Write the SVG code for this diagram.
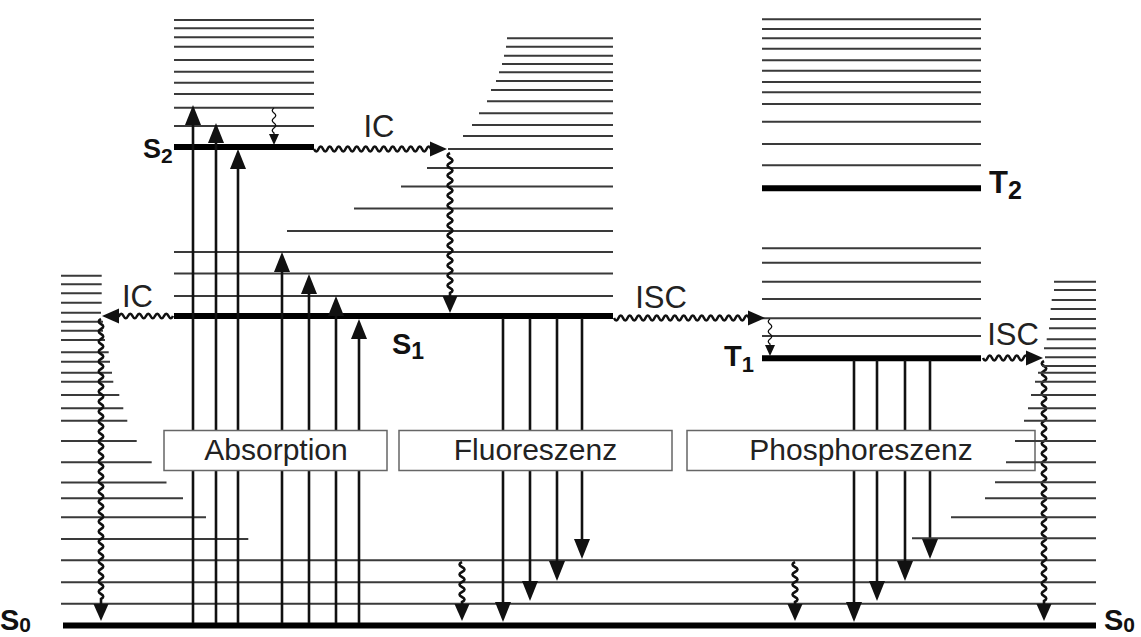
<svg xmlns="http://www.w3.org/2000/svg" width="1141" height="637" viewBox="0 0 1141 637">
<style>
.lv{stroke:#3a3a3a;stroke-width:1.9;fill:none}
.th{stroke:#000;stroke-width:6;fill:none}
.ar{stroke:#111;stroke-width:2.6;fill:none;marker-end:url(#ah)}
.wv{stroke:#111;stroke-width:2.6;fill:none;marker-end:url(#aw)}
.ws{stroke:#111;stroke-width:1.3;fill:none;marker-end:url(#as)}
.bx{fill:#fff;stroke:#666;stroke-width:1.5}
.bt{font-family:"Liberation Sans",Arial,sans-serif;font-size:30px;fill:#222;text-anchor:middle}
.pl{font-family:"Liberation Sans",Arial,sans-serif;font-size:31px;fill:#222;text-anchor:middle}
.st{font-family:"Liberation Sans",Arial,sans-serif;font-size:29px;font-weight:bold;fill:#111}
.sb{font-size:23px}
</style>
<defs>
<marker id="ah" markerUnits="userSpaceOnUse" markerWidth="20" markerHeight="17" refX="15" refY="8.5" orient="auto"><path d="M0,0.5 L20,8.5 L0,16.5 z" fill="#111"/></marker>
<marker id="aw" markerUnits="userSpaceOnUse" markerWidth="17" markerHeight="16" refX="3" refY="8" orient="auto"><path d="M0,0.5 L17,8 L0,15.5 z" fill="#111"/></marker>
<marker id="as" markerUnits="userSpaceOnUse" markerWidth="11" markerHeight="10" refX="1" refY="5" orient="auto"><path d="M0,0 L11,5 L0,10 z" fill="#111"/></marker>
</defs>

<g id="S2">
<path class="lv" d="M174,20H314M174,28.3H314M174,37.3H314M174,46.7H314M174,60H314M174,71.7H314M174,82.7H314M174,94H314M174,107.7H314M174,126H314"/>
<path class="th" d="M174,147H314"/>
<text class="st" x="143" y="158" style="font-size:27px">S<tspan style="font-size:21px" dy="5">2</tspan></text>
</g>

<g id="S1">
<path class="lv" d="M507,38.3H613M506,46.7H613M504,55.7H613M502,64H613M499,72.3H613M496,81H613M491,90H613M487,101.3H613M479,113.3H613M472,125H613M463,136H613M448,149H613M427,168H613M401,186.5H613M354,208.5H613M287,231H613M174,252H613M174,273.5H613M174,296H613"/>
<path class="th" d="M174,316H613"/>
<text class="st" x="392" y="354">S<tspan class="sb" dy="5">1</tspan></text>
</g>

<g id="T2">
<path class="lv" d="M762,19.3H981M762,29H981M762,38.3H981M762,48.7H981M762,60.3H981M762,70.7H981M762,82H981M762,92.3H981M762,104H981M762,121.7H981M762,144H981M762,165.3H981"/>
<path class="th" d="M762,188.3H981"/>
<text class="st" x="989" y="193" style="font-size:31px">T<tspan style="font-size:25px" dy="6">2</tspan></text>
</g>

<g id="T1">
<path class="lv" d="M762,248.3H981M762,262.7H981M762,281.7H981M762,299H981M762,318.3H981M762,336H981"/>
<path class="th" d="M762,358.3H981"/>
<text class="st" x="724" y="366">T<tspan style="font-size:22px" dy="6">1</tspan></text>
</g>

<g id="S0">
<path class="lv" d="M61,275.7H101.7M61,284.3H101.7M61,293.3H101.7M61,302.7H101.7M61,312.7H101M61,321.7H103M61,330.7H103M61,340H105M61,352.3H108.7M61,361.7H110M61,372.7H112M61,381.7H113.3M61,395H119.3M61,408.3H123.3M61,420.7H127.3M61,441H136.7M61,462.3H151.7M61,482.5H166.5M61,498.3H183M61,517.3H206M61,539H248.3"/>
<path class="lv" d="M61,560.3H1096M61,582.2H1096M61,603.8H1096"/>
<path class="th" d="M63,625.5H1096"/>
<text class="st" x="0" y="630">S<tspan style="font-size:21px" dy="2">0</tspan></text>
<text class="st" x="1104" y="630">S<tspan style="font-size:21px" dy="2">0</tspan></text>
</g>

<g id="connectors">
<path class="ar" d="M193,623V110"/>
<path class="ar" d="M216,623V128"/>
<path class="ar" d="M238,623V154"/>
<path class="ar" d="M282,623V257"/>
<path class="ar" d="M309,623V279"/>
<path class="ar" d="M336,623V301"/>
<path class="ar" d="M359,623V324"/>
<path class="ar" d="M503,318V617"/>
<path class="ar" d="M530,318V596"/>
<path class="ar" d="M557,318V576"/>
<path class="ar" d="M582,318V554"/>
<path class="ar" d="M854,360V617"/>
<path class="ar" d="M877,360V596"/>
<path class="ar" d="M905,360V576"/>
<path class="ar" d="M930,360V554"/>
<path class="wv" d="M314,149q2.25,5 4.5,0t4.5,0t4.5,0t4.5,0t4.5,0t4.5,0t4.5,0t4.5,0t4.5,0t4.5,0t4.5,0t4.5,0t4.5,0t4.5,0t4.5,0t4.5,0t4.5,0t4.5,0t4.5,0t4.5,0t4.5,0t4.5,0t4.5,0t4.5,0t4.5,0t4.5,0L433,149"/>
<path class="wv" d="M450,153q-5,2.5 0,5t0,5t0,5t0,5t0,5t0,5t0,5t0,5t0,5t0,5t0,5t0,5t0,5t0,5t0,5t0,5t0,5t0,5t0,5t0,5t0,5t0,5t0,5t0,5t0,5t0,5t0,5t0,5L450,299"/>
<path class="wv" d="M173,316q-2.25,4.5 -4.5,0t-4.5,0t-4.5,0t-4.5,0t-4.5,0t-4.5,0t-4.5,0t-4.5,0t-4.5,0t-4.5,0t-4.5,0t-4.5,0L116,316"/>
<path class="wv" d="M101,319q-4.5,2.5 0,5t0,5t0,5t0,5t0,5t0,5t0,5t0,5t0,5t0,5t0,5t0,5t0,5t0,5t0,5t0,5t0,5t0,5t0,5t0,5t0,5t0,5t0,5t0,5t0,5t0,5t0,5t0,5t0,5t0,5t0,5t0,5t0,5t0,5t0,5t0,5t0,5t0,5t0,5t0,5t0,5t0,5t0,5t0,5t0,5t0,5t0,5t0,5t0,5t0,5t0,5t0,5t0,5t0,5t0,5t0,5L101,607"/>
<path class="wv" d="M614,318q2.25,5 4.5,0t4.5,0t4.5,0t4.5,0t4.5,0t4.5,0t4.5,0t4.5,0t4.5,0t4.5,0t4.5,0t4.5,0t4.5,0t4.5,0t4.5,0t4.5,0t4.5,0t4.5,0t4.5,0t4.5,0t4.5,0t4.5,0t4.5,0t4.5,0t4.5,0t4.5,0t4.5,0t4.5,0t4.5,0t4.5,0L751,318"/>
<path class="wv" d="M983,358q2.25,5 4.5,0t4.5,0t4.5,0t4.5,0t4.5,0t4.5,0t4.5,0t4.5,0t4.5,0t4.5,0L1029,358"/>
<path class="wv" d="M1044,361q-4.5,2.5 0,5t0,5t0,5t0,5t0,5t0,5t0,5t0,5t0,5t0,5t0,5t0,5t0,5t0,5t0,5t0,5t0,5t0,5t0,5t0,5t0,5t0,5t0,5t0,5t0,5t0,5t0,5t0,5t0,5t0,5t0,5t0,5t0,5t0,5t0,5t0,5t0,5t0,5t0,5t0,5t0,5t0,5t0,5t0,5t0,5t0,5t0,5t0,5L1044,607"/>
<path class="wv" d="M462,562q-5,2.5 0,5t0,5t0,5t0,5t0,5t0,5t0,5t0,5L462,607"/>
<path class="wv" d="M795,562q-5,2.5 0,5t0,5t0,5t0,5t0,5t0,5t0,5t0,5L795,607"/>
<path class="ws" d="M274,108q-3.5,2.5 0,5t0,5t0,5t0,5t0,5L274,135"/>
<path class="ws" d="M770,319q-3.5,2.5 0,5t0,5t0,5t0,5t0,5L770,346"/>
<text class="pl" x="379" y="137">IC</text>
<text class="pl" x="137.5" y="306.5">IC</text>
<text class="pl" x="661" y="308">ISC</text>
<text class="pl" x="1013" y="345">ISC</text>
</g>

<g id="absorption">
<rect class="bx" x="164" y="430.5" width="223" height="40"/>
<text class="bt" x="276" y="460">Absorption</text>
</g>
<g id="fluoreszenz">
<rect class="bx" x="399" y="430.5" width="273" height="40"/>
<text class="bt" x="535.5" y="460">Fluoreszenz</text>
</g>
<g id="phosphoreszenz">
<rect class="bx" x="687" y="430.5" width="348" height="40"/>
<text class="bt" x="861" y="460">Phosphoreszenz</text>
</g>

<g id="S0-right">
<path class="lv" d="M1054,281.7H1096M1054,290H1096M1051.7,300H1096M1050.7,309H1096M1050,319H1096M1049,328.3H1096M1046.7,339.3H1096M1044,348.3H1096M1045,357.3H1096M1042,366H1096M1038,372.7H1096M1035,381.7H1096M1031,395H1096M1028,408.3H1096M1024,420.7H1096M1015,441H1096M1006,462.3H1096M995,482.3H1096M985,498.3H1096M951,517.3H1096M912,538.3H1096"/>
</g>
</svg>
